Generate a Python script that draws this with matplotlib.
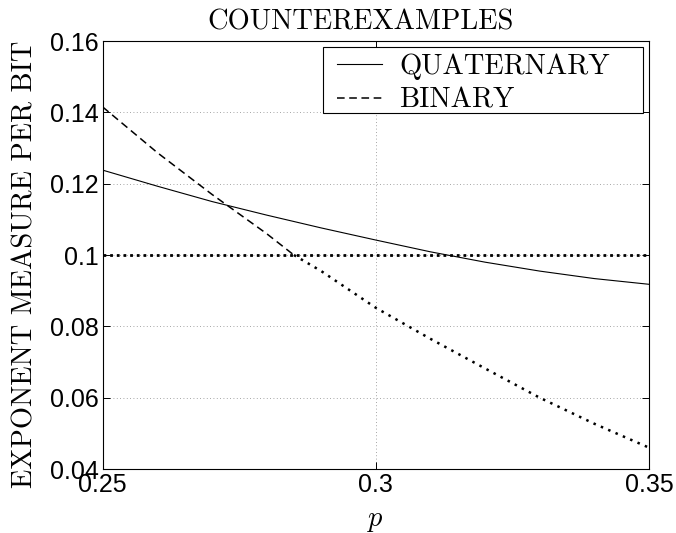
import matplotlib
matplotlib.use("Agg")
import matplotlib.pyplot as plt
from matplotlib.patches import Rectangle
import numpy as np

plt.rcParams["mathtext.fontset"] = "cm"

p = [0.25, 0.26, 0.27, 0.28, 0.285, 0.29, 0.30, 0.31, 0.32, 0.33, 0.34, 0.35]
quaternary = [0.1238, 0.1193, 0.1150, 0.1112, 0.1094, 0.1076, 0.1042, 0.1009, 0.0980, 0.0955, 0.0934, 0.0918]
binary = [0.1415, 0.1287, 0.1170, 0.1060, 0.1000, 0.0955, 0.0852, 0.0765, 0.0682, 0.0600, 0.0527, 0.0460]
threshold = 0.1

x_ticks = [0.25, 0.3, 0.35]
x_tick_labels = ["0.25", "0.3", "0.35"]
y_ticks = [0.04, 0.06, 0.08, 0.1, 0.12, 0.14, 0.16]
y_tick_labels = ["0.04", "0.06", "0.08", "0.1", "0.12", "0.14", "0.16"]

FS = 20.5

fig = plt.figure(figsize=(6.76, 5.33), dpi=100)
ax = fig.add_axes([0.152, 0.120, 0.808, 0.803])

pa = np.array(p)
ba = np.array(binary)
above = ba >= threshold - 1e-9
below = ba <= threshold + 1e-9

ax.plot(pa, quaternary, color="black", lw=0.8, label="QUATERNARY")
ax.plot(pa[above], ba[above], color="black", lw=1.1, ls=(0, (5, 3)), label="BINARY")
ax.plot(pa[below], ba[below], color="black", lw=1.8, ls=(0, (1, 2.2)))
ax.plot([p[0], p[-1]], [threshold, threshold], color="black", lw=2.0, ls=(0, (1, 1.4)))

ax.set_xlim(0.25, 0.35)
ax.set_ylim(0.04, 0.16)
ax.set_xticks(x_ticks)
ax.set_xticklabels(x_tick_labels)
ax.set_yticks(y_ticks)
ax.set_yticklabels(y_tick_labels)

ax.grid(True, color="#888888", ls=(0, (1, 3)), lw=0.6)
ax.tick_params(direction="in", top=True, right=True, length=5, width=0.7,
               labelsize=18, pad=3)
for lab in ax.get_xticklabels() + ax.get_yticklabels():
    lab.set_family("Liberation Sans")
for s in ax.spines.values():
    s.set_linewidth(0.8)

ax.set_title("COUNTEREXAMPLES", fontfamily="cmr10", fontsize=FS, pad=8)
ax.title.set_x(0.4725)
ax.set_ylabel("EXPONENT MEASURE PER BIT", fontfamily="cmr10", fontsize=FS, labelpad=6)
ax.yaxis.set_label_coords(-0.118, 0.478)
ax.set_xlabel(r"$p$", fontsize=FS, labelpad=6)

# legend box (MATLAB style, extra space on the right)
box = Rectangle((0.403, 0.832), 0.586, 0.154, transform=ax.transAxes,
                facecolor="white", edgecolor="black", lw=0.8, zorder=4)
ax.add_patch(box)
leg = ax.legend(loc="upper left", bbox_to_anchor=(0.428, 0.971),
                prop={"family": "cmr10", "size": FS},
                frameon=False, handlelength=1.6, handletextpad=0.6,
                borderaxespad=0.0, labelspacing=0.26, borderpad=0.0)
leg.set_zorder(5)

fig.savefig("out.png", dpi=100)
